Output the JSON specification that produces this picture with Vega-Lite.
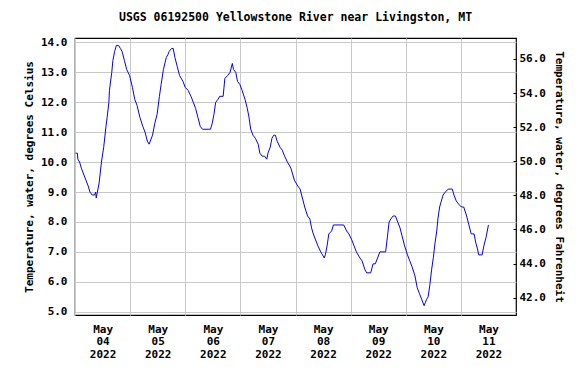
{
  "$schema": "https://vega.github.io/schema/vega-lite/v6.json",
  "width": 441,
  "height": 277,
  "autosize": "none",
  "padding": {"left": 75, "top": 38, "right": 72, "bottom": 54},
  "background": "white",
  "title": {
    "text": "USGS 06192500 Yellowstone River near Livingston, MT",
    "font": "DejaVu Sans Mono",
    "fontSize": 11.5,
    "fontWeight": "bold",
    "color": "black",
    "frame": "group",
    "anchor": "middle",
    "offset": 13
  },
  "config": {
    "view": {"stroke": "black", "strokeWidth": 1.2},
    "axis": {
      "labelFont": "DejaVu Sans Mono",
      "titleFont": "DejaVu Sans Mono",
      "labelFontWeight": "bold",
      "titleFontWeight": "bold",
      "labelColor": "black",
      "titleColor": "black",
      "labelFontSize": 11,
      "titleFontSize": 11,
      "gridColor": "#c8c8c8",
      "gridOpacity": 1,
      "gridWidth": 1,
      "domain": false
    }
  },
  "data": {
    "values": [
      {"t": "2022-05-04T00:15:00Z", "c": 10.3},
      {"t": "2022-05-04T01:00:00Z", "c": 10.3},
      {"t": "2022-05-04T01:15:00Z", "c": 10.1},
      {"t": "2022-05-04T02:00:00Z", "c": 10.0},
      {"t": "2022-05-04T02:45:00Z", "c": 9.8},
      {"t": "2022-05-04T04:15:00Z", "c": 9.5},
      {"t": "2022-05-04T05:45:00Z", "c": 9.2},
      {"t": "2022-05-04T06:30:00Z", "c": 9.0},
      {"t": "2022-05-04T07:30:00Z", "c": 8.9},
      {"t": "2022-05-04T08:30:00Z", "c": 8.9},
      {"t": "2022-05-04T09:00:00Z", "c": 9.0},
      {"t": "2022-05-04T09:15:00Z", "c": 8.8},
      {"t": "2022-05-04T09:45:00Z", "c": 9.0},
      {"t": "2022-05-04T10:30:00Z", "c": 9.3},
      {"t": "2022-05-04T11:30:00Z", "c": 10.0},
      {"t": "2022-05-04T12:30:00Z", "c": 10.5},
      {"t": "2022-05-04T13:30:00Z", "c": 11.2},
      {"t": "2022-05-04T14:00:00Z", "c": 11.5},
      {"t": "2022-05-04T14:45:00Z", "c": 12.0},
      {"t": "2022-05-04T15:00:00Z", "c": 12.4},
      {"t": "2022-05-04T16:00:00Z", "c": 13.0},
      {"t": "2022-05-04T16:30:00Z", "c": 13.4},
      {"t": "2022-05-04T17:15:00Z", "c": 13.7},
      {"t": "2022-05-04T18:00:00Z", "c": 13.9},
      {"t": "2022-05-04T19:00:00Z", "c": 13.9},
      {"t": "2022-05-04T19:45:00Z", "c": 13.8},
      {"t": "2022-05-04T20:30:00Z", "c": 13.7},
      {"t": "2022-05-04T21:30:00Z", "c": 13.4},
      {"t": "2022-05-04T22:30:00Z", "c": 13.1},
      {"t": "2022-05-04T23:45:00Z", "c": 12.9},
      {"t": "2022-05-05T01:00:00Z", "c": 12.5},
      {"t": "2022-05-05T02:00:00Z", "c": 12.1},
      {"t": "2022-05-05T03:00:00Z", "c": 11.9},
      {"t": "2022-05-05T04:15:00Z", "c": 11.5},
      {"t": "2022-05-05T05:30:00Z", "c": 11.2},
      {"t": "2022-05-05T06:30:00Z", "c": 11.0},
      {"t": "2022-05-05T07:30:00Z", "c": 10.7},
      {"t": "2022-05-05T08:15:00Z", "c": 10.6},
      {"t": "2022-05-05T08:45:00Z", "c": 10.7},
      {"t": "2022-05-05T09:45:00Z", "c": 10.9},
      {"t": "2022-05-05T10:45:00Z", "c": 11.3},
      {"t": "2022-05-05T11:45:00Z", "c": 11.6},
      {"t": "2022-05-05T12:45:00Z", "c": 12.2},
      {"t": "2022-05-05T13:30:00Z", "c": 12.6},
      {"t": "2022-05-05T14:30:00Z", "c": 13.1},
      {"t": "2022-05-05T15:45:00Z", "c": 13.5},
      {"t": "2022-05-05T16:30:00Z", "c": 13.6},
      {"t": "2022-05-05T17:00:00Z", "c": 13.7},
      {"t": "2022-05-05T18:00:00Z", "c": 13.8},
      {"t": "2022-05-05T18:45:00Z", "c": 13.8},
      {"t": "2022-05-05T19:30:00Z", "c": 13.5},
      {"t": "2022-05-05T20:30:00Z", "c": 13.2},
      {"t": "2022-05-05T21:30:00Z", "c": 12.9},
      {"t": "2022-05-05T23:00:00Z", "c": 12.7},
      {"t": "2022-05-06T00:00:00Z", "c": 12.5},
      {"t": "2022-05-06T01:15:00Z", "c": 12.4},
      {"t": "2022-05-06T02:30:00Z", "c": 12.2},
      {"t": "2022-05-06T03:30:00Z", "c": 12.0},
      {"t": "2022-05-06T04:30:00Z", "c": 11.8},
      {"t": "2022-05-06T05:30:00Z", "c": 11.5},
      {"t": "2022-05-06T06:30:00Z", "c": 11.2},
      {"t": "2022-05-06T07:30:00Z", "c": 11.1},
      {"t": "2022-05-06T11:00:00Z", "c": 11.1},
      {"t": "2022-05-06T11:45:00Z", "c": 11.3},
      {"t": "2022-05-06T12:30:00Z", "c": 11.6},
      {"t": "2022-05-06T13:15:00Z", "c": 12.0},
      {"t": "2022-05-06T14:15:00Z", "c": 12.1},
      {"t": "2022-05-06T15:00:00Z", "c": 12.2},
      {"t": "2022-05-06T16:30:00Z", "c": 12.2},
      {"t": "2022-05-06T17:15:00Z", "c": 12.8},
      {"t": "2022-05-06T18:30:00Z", "c": 12.9},
      {"t": "2022-05-06T19:30:00Z", "c": 13.0},
      {"t": "2022-05-06T20:30:00Z", "c": 13.3},
      {"t": "2022-05-06T21:00:00Z", "c": 13.1},
      {"t": "2022-05-06T22:00:00Z", "c": 13.0},
      {"t": "2022-05-06T22:45:00Z", "c": 12.7},
      {"t": "2022-05-06T23:45:00Z", "c": 12.6},
      {"t": "2022-05-07T00:45:00Z", "c": 12.4},
      {"t": "2022-05-07T02:00:00Z", "c": 12.1},
      {"t": "2022-05-07T03:00:00Z", "c": 11.8},
      {"t": "2022-05-07T03:45:00Z", "c": 11.5},
      {"t": "2022-05-07T04:30:00Z", "c": 11.1},
      {"t": "2022-05-07T05:30:00Z", "c": 10.9},
      {"t": "2022-05-07T06:30:00Z", "c": 10.8},
      {"t": "2022-05-07T07:45:00Z", "c": 10.6},
      {"t": "2022-05-07T08:30:00Z", "c": 10.3},
      {"t": "2022-05-07T09:30:00Z", "c": 10.2},
      {"t": "2022-05-07T10:30:00Z", "c": 10.2},
      {"t": "2022-05-07T11:30:00Z", "c": 10.1},
      {"t": "2022-05-07T12:00:00Z", "c": 10.3},
      {"t": "2022-05-07T13:00:00Z", "c": 10.5},
      {"t": "2022-05-07T13:45:00Z", "c": 10.8},
      {"t": "2022-05-07T14:30:00Z", "c": 10.9},
      {"t": "2022-05-07T15:15:00Z", "c": 10.9},
      {"t": "2022-05-07T16:00:00Z", "c": 10.7},
      {"t": "2022-05-07T17:15:00Z", "c": 10.5},
      {"t": "2022-05-07T18:15:00Z", "c": 10.4},
      {"t": "2022-05-07T19:15:00Z", "c": 10.2},
      {"t": "2022-05-07T20:30:00Z", "c": 10.0},
      {"t": "2022-05-07T22:00:00Z", "c": 9.8},
      {"t": "2022-05-07T23:30:00Z", "c": 9.4},
      {"t": "2022-05-08T01:00:00Z", "c": 9.2},
      {"t": "2022-05-08T02:00:00Z", "c": 9.1},
      {"t": "2022-05-08T03:00:00Z", "c": 8.8},
      {"t": "2022-05-08T04:00:00Z", "c": 8.5},
      {"t": "2022-05-08T05:15:00Z", "c": 8.2},
      {"t": "2022-05-08T06:15:00Z", "c": 8.1},
      {"t": "2022-05-08T07:00:00Z", "c": 7.8},
      {"t": "2022-05-08T07:45:00Z", "c": 7.6},
      {"t": "2022-05-08T08:45:00Z", "c": 7.4},
      {"t": "2022-05-08T09:45:00Z", "c": 7.2},
      {"t": "2022-05-08T11:00:00Z", "c": 7.0},
      {"t": "2022-05-08T11:45:00Z", "c": 6.9},
      {"t": "2022-05-08T12:30:00Z", "c": 6.8},
      {"t": "2022-05-08T13:00:00Z", "c": 6.9},
      {"t": "2022-05-08T13:45:00Z", "c": 7.2},
      {"t": "2022-05-08T14:30:00Z", "c": 7.6},
      {"t": "2022-05-08T15:45:00Z", "c": 7.7},
      {"t": "2022-05-08T16:30:00Z", "c": 7.9},
      {"t": "2022-05-08T21:00:00Z", "c": 7.9},
      {"t": "2022-05-08T22:15:00Z", "c": 7.7},
      {"t": "2022-05-08T23:15:00Z", "c": 7.6},
      {"t": "2022-05-09T00:30:00Z", "c": 7.4},
      {"t": "2022-05-09T01:30:00Z", "c": 7.2},
      {"t": "2022-05-09T02:30:00Z", "c": 7.0},
      {"t": "2022-05-09T04:00:00Z", "c": 6.8},
      {"t": "2022-05-09T05:00:00Z", "c": 6.7},
      {"t": "2022-05-09T06:15:00Z", "c": 6.4},
      {"t": "2022-05-09T07:00:00Z", "c": 6.3},
      {"t": "2022-05-09T08:45:00Z", "c": 6.3},
      {"t": "2022-05-09T09:45:00Z", "c": 6.6},
      {"t": "2022-05-09T10:45:00Z", "c": 6.6},
      {"t": "2022-05-09T11:45:00Z", "c": 6.8},
      {"t": "2022-05-09T12:45:00Z", "c": 7.0},
      {"t": "2022-05-09T15:15:00Z", "c": 7.0},
      {"t": "2022-05-09T16:00:00Z", "c": 7.5},
      {"t": "2022-05-09T16:45:00Z", "c": 8.0},
      {"t": "2022-05-09T17:30:00Z", "c": 8.1},
      {"t": "2022-05-09T18:30:00Z", "c": 8.2},
      {"t": "2022-05-09T19:30:00Z", "c": 8.2},
      {"t": "2022-05-09T20:30:00Z", "c": 8.0},
      {"t": "2022-05-09T21:30:00Z", "c": 7.8},
      {"t": "2022-05-09T22:30:00Z", "c": 7.5},
      {"t": "2022-05-09T23:30:00Z", "c": 7.2},
      {"t": "2022-05-10T00:45:00Z", "c": 6.9},
      {"t": "2022-05-10T01:45:00Z", "c": 6.7},
      {"t": "2022-05-10T02:45:00Z", "c": 6.5},
      {"t": "2022-05-10T04:00:00Z", "c": 6.2},
      {"t": "2022-05-10T05:00:00Z", "c": 5.8},
      {"t": "2022-05-10T06:00:00Z", "c": 5.6},
      {"t": "2022-05-10T07:00:00Z", "c": 5.4},
      {"t": "2022-05-10T08:00:00Z", "c": 5.2},
      {"t": "2022-05-10T08:30:00Z", "c": 5.3},
      {"t": "2022-05-10T09:00:00Z", "c": 5.4},
      {"t": "2022-05-10T09:45:00Z", "c": 5.5},
      {"t": "2022-05-10T10:30:00Z", "c": 5.9},
      {"t": "2022-05-10T11:15:00Z", "c": 6.4},
      {"t": "2022-05-10T12:00:00Z", "c": 6.8},
      {"t": "2022-05-10T12:45:00Z", "c": 7.3},
      {"t": "2022-05-10T13:30:00Z", "c": 7.7},
      {"t": "2022-05-10T14:00:00Z", "c": 8.1},
      {"t": "2022-05-10T14:45:00Z", "c": 8.5},
      {"t": "2022-05-10T15:30:00Z", "c": 8.7},
      {"t": "2022-05-10T16:15:00Z", "c": 8.9},
      {"t": "2022-05-10T17:15:00Z", "c": 9.0},
      {"t": "2022-05-10T18:30:00Z", "c": 9.1},
      {"t": "2022-05-10T20:15:00Z", "c": 9.1},
      {"t": "2022-05-10T21:00:00Z", "c": 8.9},
      {"t": "2022-05-10T22:00:00Z", "c": 8.7},
      {"t": "2022-05-10T23:00:00Z", "c": 8.6},
      {"t": "2022-05-11T00:15:00Z", "c": 8.5},
      {"t": "2022-05-11T01:15:00Z", "c": 8.5},
      {"t": "2022-05-11T02:30:00Z", "c": 8.2},
      {"t": "2022-05-11T03:30:00Z", "c": 7.9},
      {"t": "2022-05-11T04:30:00Z", "c": 7.6},
      {"t": "2022-05-11T05:45:00Z", "c": 7.6},
      {"t": "2022-05-11T06:30:00Z", "c": 7.3},
      {"t": "2022-05-11T07:15:00Z", "c": 7.1},
      {"t": "2022-05-11T07:45:00Z", "c": 6.9},
      {"t": "2022-05-11T09:15:00Z", "c": 6.9},
      {"t": "2022-05-11T10:00:00Z", "c": 7.2},
      {"t": "2022-05-11T11:00:00Z", "c": 7.5},
      {"t": "2022-05-11T12:00:00Z", "c": 7.9}
    ]
  },
  "layer": [
    {
      "mark": {"type": "line", "color": "#0000ff", "strokeWidth": 1, "clip": true},
      "encoding": {
        "x": {
          "field": "t",
          "type": "temporal",
          "scale": {
            "type": "utc",
            "domain": [
              {"year": 2022, "month": 5, "date": 4, "utc": true},
              {"year": 2022, "month": 5, "date": 12, "utc": true}
            ],
            "nice": false
          },
          "axis": {
            "title": null,
            "values": [
              {"year": 2022, "month": 5, "date": 4, "utc": true},
              {"year": 2022, "month": 5, "date": 5, "utc": true},
              {"year": 2022, "month": 5, "date": 6, "utc": true},
              {"year": 2022, "month": 5, "date": 7, "utc": true},
              {"year": 2022, "month": 5, "date": 8, "utc": true},
              {"year": 2022, "month": 5, "date": 9, "utc": true},
              {"year": 2022, "month": 5, "date": 10, "utc": true},
              {"year": 2022, "month": 5, "date": 11, "utc": true}
            ],
            "labelExpr": "[utcFormat(datum.value, '%b'), utcFormat(datum.value, '%d'), utcFormat(datum.value, '%Y')]",
            "labelOffset": 27.6,
            "labelAlign": "center",
            "labelBaseline": "top",
            "labelLineHeight": 12.5,
            "labelPadding": 8,
            "labelBound": false,
            "labelOverlap": false,
            "labelFlush": false,
            "ticks": false,
            "grid": true
          }
        },
        "y": {
          "field": "c",
          "type": "quantitative",
          "scale": {"domain": [4.89, 14.15], "nice": false, "zero": false},
          "axis": {
            "title": "Temperature, water, degrees Celsius",
            "values": [5, 6, 7, 8, 9, 10, 11, 12, 13, 14],
            "format": ".1f",
            "ticks": false,
            "labelPadding": 8,
            "titlePadding": 6,
            "grid": true
          }
        }
      }
    },
    {
      "transform": [{"calculate": "datum.c * 9 / 5 + 32", "as": "f"}],
      "mark": {"type": "line", "opacity": 0},
      "encoding": {
        "x": {"field": "t", "type": "temporal"},
        "y": {
          "field": "f",
          "type": "quantitative",
          "scale": {"domain": [40.98, 57.23], "nice": false, "zero": false},
          "axis": {
            "orient": "right",
            "title": "Temperature, water, degrees Fahrenheit",
            "values": [42, 44, 46, 48, 50, 52, 54, 56],
            "format": ".1f",
            "grid": false,
            "ticks": true,
            "tickColor": "black",
            "tickSize": -3,
            "labelPadding": 6,
            "titlePadding": 8
          }
        }
      }
    }
  ],
  "resolve": {"scale": {"y": "independent"}}
}
